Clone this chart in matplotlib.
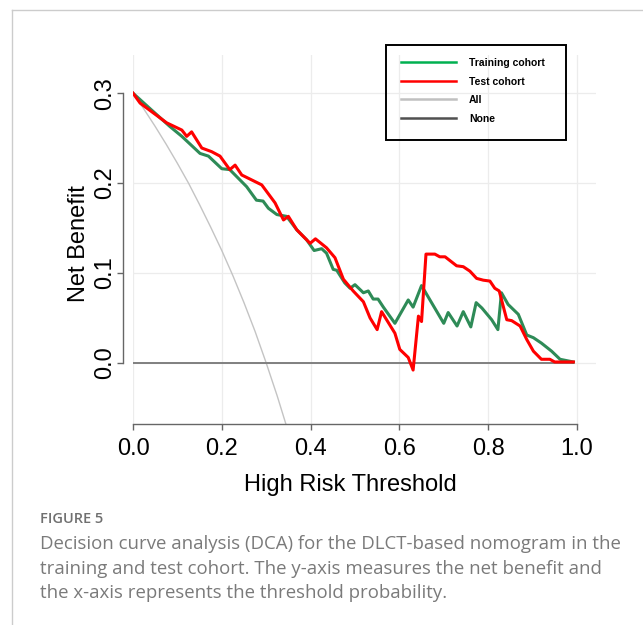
import matplotlib
matplotlib.use("Agg")
import matplotlib.pyplot as plt
from matplotlib.lines import Line2D
from matplotlib.patches import Rectangle

# decision curve values
x_train = [0, 0.038, 0.083, 0.110, 0.151, 0.170, 0.200, 0.218, 0.256, 0.278,
           0.293, 0.305, 0.324, 0.346, 0.369, 0.391, 0.408, 0.425, 0.436, 0.451,
           0.459, 0.477, 0.489, 0.500, 0.519, 0.530, 0.541, 0.552, 0.564, 0.590,
           0.620, 0.631, 0.650, 0.669, 0.700, 0.710, 0.730, 0.744, 0.761, 0.773,
           0.786, 0.808, 0.822, 0.830, 0.845, 0.868, 0.887, 0.902, 0.920, 0.943,
           0.962, 0.992]
nb_train = [0.300, 0.283, 0.263, 0.252, 0.233, 0.230, 0.216, 0.215, 0.196, 0.181,
            0.180, 0.172, 0.165, 0.163, 0.148, 0.137, 0.125, 0.127, 0.122, 0.104,
            0.103, 0.089, 0.083, 0.087, 0.078, 0.080, 0.071, 0.071, 0.062, 0.044,
            0.070, 0.062, 0.086, 0.070, 0.044, 0.056, 0.041, 0.057, 0.040, 0.067,
            0.061, 0.048, 0.037, 0.078, 0.065, 0.054, 0.031, 0.028, 0.022, 0.013,
            0.004, 0.001]

x_test = [0, 0.016, 0.046, 0.076, 0.110, 0.121, 0.132, 0.155, 0.177, 0.196,
          0.218, 0.230, 0.245, 0.290, 0.320, 0.339, 0.350, 0.369, 0.399, 0.411,
          0.436, 0.455, 0.474, 0.496, 0.519, 0.534, 0.550, 0.560, 0.590, 0.601,
          0.620, 0.631, 0.643, 0.650, 0.660, 0.680, 0.691, 0.703, 0.729, 0.744,
          0.759, 0.774, 0.789, 0.804, 0.815, 0.825, 0.842, 0.853, 0.872, 0.887,
          0.902, 0.920, 0.939, 0.950, 0.992]
nb_test = [0.300, 0.289, 0.278, 0.267, 0.259, 0.252, 0.257, 0.239, 0.235, 0.230,
           0.215, 0.220, 0.209, 0.198, 0.178, 0.159, 0.163, 0.148, 0.133, 0.138,
           0.128, 0.117, 0.093, 0.080, 0.068, 0.050, 0.037, 0.057, 0.033, 0.015,
           0.006, -0.008, 0.052, 0.046, 0.121, 0.121, 0.118, 0.118, 0.108, 0.107,
           0.102, 0.094, 0.092, 0.091, 0.083, 0.080, 0.048, 0.047, 0.041, 0.026,
           0.013, 0.004, 0.004, 0.001, 0.001]

x_all = [0, 0.025, 0.05, 0.075, 0.10, 0.125, 0.15, 0.175, 0.20, 0.225,
         0.25, 0.275, 0.30, 0.325, 0.35]
nb_all = [0.300, 0.282, 0.263, 0.243, 0.222, 0.200, 0.176, 0.151, 0.125, 0.097,
          0.067, 0.035, 0.000, -0.037, -0.077]

x_none = [0, 0.992]
nb_none = [0, 0]

x_ticks = [0.0, 0.2, 0.4, 0.6, 0.8, 1.0]
y_ticks = [0.0, 0.1, 0.2, 0.3]
legend_labels = ["Training cohort", "Test cohort", "All", "None"]

W, H = 643, 625
fig = plt.figure(figsize=(W / 100, H / 100), dpi=100)
plt.rcParams['font.family'] = ['Liberation Sans', 'DejaVu Sans']

ax = fig.add_axes([133 / W, 1 - 424 / H, (596 - 133) / W, (424 - 55) / H])
ax.set_xlim(0, 1.043)
ax.set_ylim(-0.068, 0.3425)

# grid
for xt in x_ticks:
    ax.axvline(xt, color='#ececec', lw=0.9, zorder=0)
for yt in y_ticks:
    ax.axhline(yt, color='#ececec', lw=0.9, zorder=0)

ax.plot(x_all, nb_all, color='#c4c4c4', lw=1.0, zorder=1)
ax.plot(x_none, nb_none, color='#808080', lw=1.4, zorder=1)
ax.plot(x_train, nb_train, color='#2e8b57', lw=2.2, zorder=2)
ax.plot(x_test, nb_test, color='#ff0000', lw=2.2, zorder=3)

for s in ['top', 'right']:
    ax.spines[s].set_visible(False)
ax.spines['left'].set_position(('outward', 7))
ax.spines['left'].set_bounds(0, 0.3)
ax.spines['bottom'].set_bounds(0, 1.0)
for s in ['left', 'bottom']:
    ax.spines[s].set_color('#666666')
    ax.spines[s].set_linewidth(1.0)

ax.set_xticks(x_ticks)
ax.set_xticklabels([f"{t:.1f}" for t in x_ticks])
ax.set_yticks(y_ticks)
ax.set_yticklabels([f"{t:.1f}" for t in y_ticks], rotation=90, va='center')
ax.tick_params(axis='both', length=4, width=1.0, color='#666666', labelsize=17, pad=1)
ax.tick_params(axis='x', pad=6)
ax.set_xlabel("High Risk Threshold", fontsize=17)
ax.xaxis.set_label_coords(0.5 / 1.043 - 0.01, -0.135)
ax.set_ylabel("Net Benefit", fontsize=17)
ax.yaxis.set_label_coords(-0.092, 0.49)

# legend box drawn in figure pixels
def fx(px):
    return px / W

def fy(py):
    return 1 - py / H

fig.add_artist(Rectangle((fx(386), fy(140)), fx(566) - fx(386), fy(45) - fy(140),
                         transform=fig.transFigure, fill=False, ec='black', lw=1.4))
leg_colors = ['#00b050', '#ff0000', '#c0c0c0', '#505050']
leg_y = [62, 81, 99, 118]
for lab, c, yy in zip(legend_labels, leg_colors, leg_y):
    fig.add_artist(Line2D([fx(401), fx(456)], [fy(yy), fy(yy)], color=c, lw=1.8,
                          transform=fig.transFigure))
    fig.text(fx(469), fy(yy + 1), lab, fontsize=7.5, fontweight='bold',
             va='center', ha='left')

# page frame
fig.add_artist(Line2D([fx(12), 1], [fy(10), fy(10)], color='#cccccc', lw=1.0,
                      transform=fig.transFigure))
fig.add_artist(Line2D([fx(12), fx(12)], [fy(10), 0], color='#cccccc', lw=1.0,
                      transform=fig.transFigure))

# caption
cap_font = ['Open Sans', 'DejaVu Sans']
fig.text(fx(40), fy(519), "FIGURE 5", fontsize=10.5, color='#707070',
         family=cap_font, fontweight='semibold', va='center')
caption = ["Decision curve analysis (DCA) for the DLCT-based nomogram in the",
           "training and test cohort. The y-axis measures the net benefit and",
           "the x-axis represents the threshold probability."]
for i, line in enumerate(caption):
    fig.text(fx(40), fy(544 + 24.5 * i), line, fontsize=13.4, color='#7a7a7a',
             family=cap_font, va='center')

fig.savefig("out.png", dpi=100)
